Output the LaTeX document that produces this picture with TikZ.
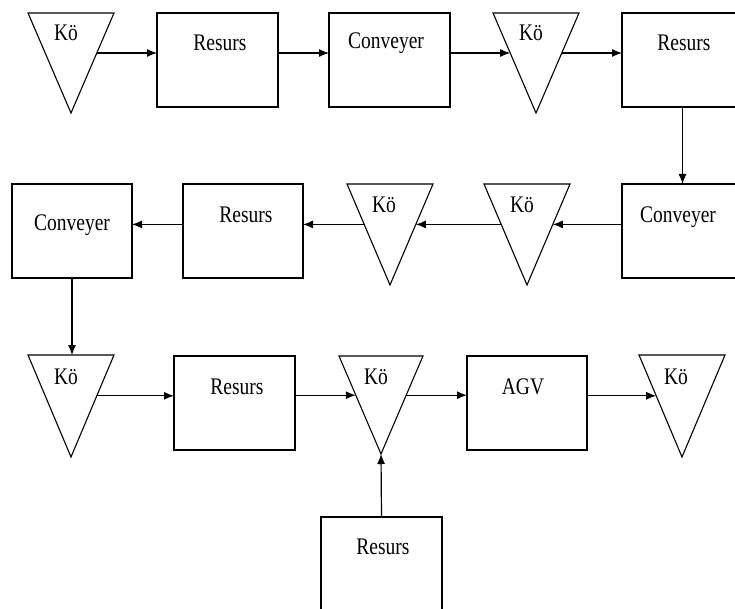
\documentclass[tikz,border=0pt]{standalone}
\usepackage{fontspec}
\usepackage{graphicx}
\setmainfont{Liberation Serif}
\usetikzlibrary{arrows.meta,calc}

% label text, slightly tall and narrow
\newcommand\lbltext[1]{\scalebox{1}[1.22]{#1}}

% downward queue triangle: name, left x, right x, top y, apex y
\newcommand\kotri[5]{%
  \coordinate (#1-tl) at (#2,#4);
  \coordinate (#1-tr) at (#3,#4);
  \coordinate (#1-b) at ({(#2+#3)/2},#5);
  \coordinate (#1-top) at ({(#2+#3)/2},#4);
  \draw[shapeline] (#1-tl) -- (#1-tr) -- (#1-b) -- cycle;
  \coordinate (#1-in) at ($(#1-tl)!0.4!(#1-b)$);
  \coordinate (#1-out) at ($(#1-tr)!0.4!(#1-b)$);
}

\begin{document}
\begin{tikzpicture}[x=1pt,y=-1pt,
  shapeline/.style={line width=1.1pt, line join=miter},
  blk/.style={draw, line width=1.1pt, minimum width=121pt, minimum height=94pt,
    anchor=north west, inner sep=0pt, outer sep=0pt},
  lbl/.style={font=\fontsize{19.5}{22}\selectfont, inner sep=0pt},
  arr/.style={line width=1.2pt, -{Latex[length=10pt,width=8pt]}}]

\fill[white] (0,0) rectangle (735,609);
\useasboundingbox (0,0) rectangle (735,609);
\clip (0,0) rectangle (735,609);

% ---- first row ----
\kotri{k1}{28}{114}{13}{113}
\node[lbl] (k1) at (66,33) {\lbltext{Kö}};
\node[blk] (r1) at (157,13) {};
\node[lbl] (r1l) at (220,43) {\lbltext{Resurs}};
\node[blk] (c1) at (329,13) {};
\node[lbl] (c1l) at (386,43) {\lbltext{Conveyer}};
\kotri{k2}{493}{579}{13}{113}
\node[lbl] (k2) at (531,33) {\lbltext{Kö}};
\node[blk] (r2) at (622,13) {};
\node[lbl] (r2l) at (684,43) {\lbltext{Resurs}};

% ---- second row ----
\node[blk, minimum width=120pt] (c2) at (12,184) {};
\node[lbl] (c2l) at (72,225) {\lbltext{Conveyer}};
\node[blk, minimum width=120pt] (r3) at (183,184) {};
\node[lbl] (r3l) at (246,215) {\lbltext{Resurs}};
\kotri{k3}{347}{433}{184}{285}
\node[lbl] (k3) at (384,205) {\lbltext{Kö}};
\kotri{k4}{484}{570}{184}{285}
\node[lbl] (k4) at (522,205) {\lbltext{Kö}};
\node[blk] (c3) at (622,184) {};
\node[lbl] (c3l) at (678,217) {\lbltext{Conveyer}};

% ---- third row ----
\kotri{k5}{28}{114}{355}{457}
\node[lbl] (k5) at (66,377) {\lbltext{Kö}};
\node[blk] (r4) at (174,356) {};
\node[lbl] (r4l) at (237,387) {\lbltext{Resurs}};
\kotri{k6}{339}{423}{356}{454}
\node[lbl] (k6) at (376,377) {\lbltext{Kö}};
\node[blk, minimum width=120pt] (agv) at (467,356) {};
\node[lbl] (agvl) at (523,387) {\lbltext{AGV}};
\kotri{k7}{639}{725}{355}{457}
\node[lbl] (k7) at (676,377) {\lbltext{Kö}};
\node[blk, minimum height=110pt] (r5) at (321,517) {};
\node[lbl] (r5l) at (383,547) {\lbltext{Resurs}};

% ---- connectors ----
\draw[arr] (k1-out) -- (k1-out -| r1.west);
\draw[arr] (r1.east |- k1-out) -- (c1.west |- k1-out);
\draw[arr] (c1.east |- k2-in) -- (k2-in);
\draw[arr] (k2-out) -- (k2-out -| r2.west);
\draw[arr] (r2.south) -- (c3.north);
\draw[arr] (c3.west |- k4-out) -- (k4-out);
\draw[arr] (k4-in) -- (k3-out);
\draw[arr] (k3-in) -- (k3-in -| r3.east);
\draw[arr] (r3.west |- k3-in) -- (c2.east |- k3-in);
\draw[arr] (c2.south) -- (c2.south |- k5-top);
\draw[arr] (k5-out) -- (k5-out -| r4.west);
\draw[arr] (r4.east |- k6-in) -- (k6-in);
\draw[arr] (k6-out) -- (k6-out -| agv.west);
\draw[arr] (agv.east |- k7-in) -- (k7-in);
\draw[arr] (r5.north) -- (k6-b);
\end{tikzpicture}
\end{document}
